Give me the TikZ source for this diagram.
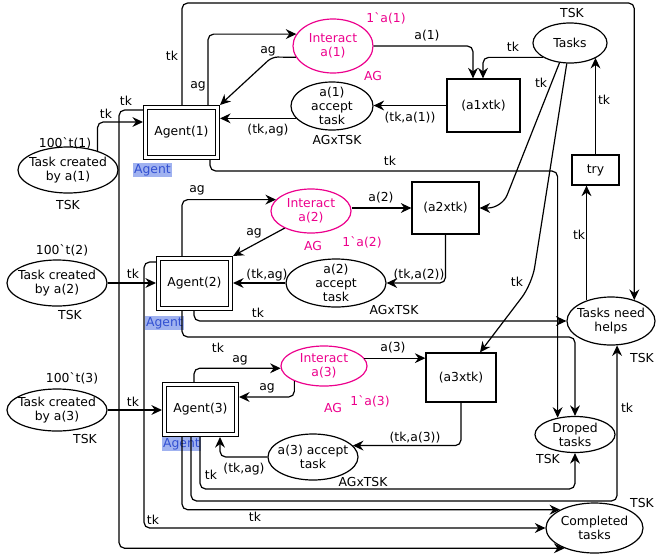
\documentclass[tikz,border=0pt]{standalone}
\usepackage{fontspec}
\setmainfont{DejaVu Sans}
\usetikzlibrary{shapes.geometric,arrows.meta}
\definecolor{tagfill}{RGB}{160,178,240}
\definecolor{tagtext}{RGB}{50,80,210}
\tikzset{
  every node/.append style={font=\fontsize{8.8}{9.8}\selectfont},
  place/.style={draw, ellipse, line width=0.85pt, inner sep=-40pt, align=center},
  iplace/.style={place, draw=magenta, text=magenta},
  trans/.style={draw, rectangle, line width=0.85pt, inner sep=0pt},
  agent/.style={draw, rectangle, line width=0.8pt, double=white, double distance=2pt,
    minimum width=1.8cm, minimum height=1.25cm, inner sep=0pt, outer sep=1.8pt},
  arc/.style={draw, line width=0.85pt, rounded corners=4pt,
    -{Stealth[length=7.5pt,width=7pt,inset=2.5pt]}},
  lbl/.style={inner sep=0pt},
  mlbl/.style={lbl, text=magenta},
  tag/.style={fill=tagfill, text=tagtext, inner sep=0.6pt, anchor=north west}
}
\newcommand{\myLabel}[3]{\node[lbl] (#1) at (#2) {#3};}
\newcommand{\myMLabel}[3]{\node[mlbl] (#1) at (#2) {#3};}

\begin{document}
\begin{tikzpicture}[x=0.025cm, y=-0.025cm]
	\useasboundingbox (0,0) rectangle (656,553);
	% agents
	\node[agent] (ag1) at (181.5,132.5) {Agent(1)};
	\node[agent] (ag2) at (194.5,283.5) {Agent(2)};
	\node[agent] (ag3) at (200.5,409.5) {Agent(3)};
	\node[tag] (tg1) at (133,163) {Agent};
	\node[tag] (tg2) at (145,316) {Agent};
	\node[tag] (tg3) at (162,437) {Agent};
	% places
	\node[place, minimum width=2.5cm, minimum height=1.15cm] (tc1) at (68,170) {Task created\\by a(1)};
	\node[place, minimum width=2.5cm, minimum height=1.15cm] (tc2) at (57,283) {Task created\\by a(2)};
	\node[place, minimum width=2.5cm, minimum height=1.05cm] (tc3) at (57,410) {Task created\\by a(3)};
	\node[iplace, minimum width=2cm, minimum height=1.35cm] (ia1) at (333,46) {Interact\\a(1)};
	\node[iplace, minimum width=2cm, minimum height=1.1cm] (ia2) at (311,211) {Interact\\a(2)};
	\node[iplace, minimum width=2.15cm, minimum height=1cm] (ia3) at (324,366) {Interact\\a(3)};
	\node[place, minimum width=2.05cm, minimum height=1.2cm] (acc1) at (332,106) {a(1)\\accept\\task};
	\node[place, minimum width=2.5cm, minimum height=1.2cm] (acc2) at (336,283) {a(2)\\accept\\task};
	\node[place, minimum width=2.25cm, minimum height=1.15cm] (acc3) at (313,457) {a(3) accept\\task};
	\node[place, minimum width=1.85cm, minimum height=1cm] (tasks) at (570,43) {Tasks};
	\node[place, minimum width=2.2cm, minimum height=1.2cm] (tnh) at (611,321) {Tasks need\\helps};
	\node[place, minimum width=2cm, minimum height=0.9cm] (drop) at (575,434.5) {Droped\\tasks};
	\node[place, minimum width=2.425cm, minimum height=1.25cm] (comp) at (594.5,528) {Completed\\tasks};
	% transitions
	\node[trans, minimum width=1.825cm, minimum height=1.325cm] (t1) at (483.5,105.5) {(a1xtk)};
	\node[trans, minimum width=1.675cm, minimum height=1.3cm] (t2) at (445.5,208) {(a2xtk)};
	\node[trans, minimum width=1.75cm, minimum height=1.225cm] (t3) at (461,377.5) {(a3xtk)};
	\node[trans, minimum width=1.175cm, minimum height=0.75cm] (try) at (595.5,170) {try};
	% colour sets and markings
	\myLabel{m1}{65,143}{100\textasciigrave t(1)}
	\myLabel{c1}{68,205}{TSK}
	\myLabel{m2}{62,250}{100\textasciigrave t(2)}
	\myLabel{c2}{70,315}{TSK}
	\myLabel{m3}{72,378}{100\textasciigrave t(3)}
	\myLabel{c3}{85,439}{TSK}
	\myMLabel{mi1}{386,18}{1\textasciigrave a(1)}
	\myMLabel{ci1}{373,76}{AG}
	\myMLabel{mi2}{362,242}{1\textasciigrave a(2)}
	\myMLabel{ci2}{313,246}{AG}
	\myMLabel{mi3}{370,401}{1\textasciigrave a(3)}
	\myMLabel{ci3}{333,408}{AG}
	\myLabel{ca1}{337,140}{AGxTSK}
	\myLabel{ca2}{394,310}{AGxTSK}
	\myLabel{ca3}{363,482}{AGxTSK}
	\myLabel{ct}{572,13}{TSK}
	\myLabel{cn}{642,358}{TSK}
	\myLabel{cd}{548,459}{TSK}
	\myLabel{cc}{642,503}{TSK}
	% arcs of Agent(1)
	\draw[arc] (tc1.33) |- (ag1.west |- 0,122);
	\draw[arc] (ag1.west |- 0,110) -- (119,110) |- (comp.214);
	\draw[arc] (182,0 |- ag1.north) |- (tnh.42 |- 0,3) -- (tnh.42);
	\draw[arc] (208,0 |- ag1.north) |- (ia1.162);
	\draw[arc] (ia1.197) -- (272,57) -- (ag1.north east);
	\draw[arc] (acc1.199) -- (ag1.east |- acc1.199);
	\draw[arc] (ia1.east) -| (473,0 |- t1.north);
	\draw[arc] (tasks.208) -| (483,0 |- t1.north);
	\draw[arc] (t1.west) -- (t1.west -| acc1.east);
	\draw[arc] (210,0 |- ag1.south) |- (drop.136 |- 0,171) -- (drop.136);
	\myLabel{a1}{106,114}{tk}
	\myLabel{a2}{126,101}{tk}
	\myLabel{a3}{172,56}{tk}
	\myLabel{a4}{198,86}{ag}
	\myLabel{a5}{268,51}{ag}
	\myLabel{a6}{268,130}{(tk,ag)}
	\myLabel{a7}{427,36}{a(1)}
	\myLabel{a8}{513,47}{tk}
	\myLabel{a9}{410,118}{(tk,a(1))}
	\myLabel{a10}{390,161}{tk}
	% arcs of Tasks and try
	\draw[arc, rounded corners=10pt] (tasks.242) -- (502,208) -- (t2.east);
	\draw[arc, rounded corners=12pt] (tasks.261) -- (532,284) -- (480,0 |- t3.north);
	\draw[arc] (tnh.140) -- (tnh.140 |- try.south);
	\draw[arc] (try.north) -- (try.north |- tasks.330);
	\myLabel{b1}{541,83}{tk}
	\myLabel{b2}{517,282}{tk}
	\myLabel{b3}{579,235}{tk}
	\myLabel{b4}{604,100}{tk}
	% arcs of Agent(2)
	\draw[arc] (tc2.east) -- (tc2.east -| ag2.west);
	\draw[arc] (182,0 |- ag2.north) |- (ia2.162);
	\draw[arc] (ia2.213) -- (ag2.north east);
	\draw[arc] (acc2.west) -- (acc2.west -| ag2.east);
	\draw[arc] (t2.west -| ia2.east) -- (t2.west);
	\draw[arc] (t2.south) |- (acc2.east);
	\draw[arc] (194,0 |- ag2.south) |- (tnh.west);
	\draw[arc] (182,0 |- ag2.south) |- (drop.north |- 0,337) -- (drop.north);
	\draw[arc] (ag2.west |- 0,262) -- (144,262) |- (comp.west);
	\myLabel{d1}{133,274}{tk}
	\myLabel{d2}{197,190}{ag}
	\myLabel{d3}{254,233}{ag}
	\myLabel{d4}{267,275}{(tk,ag)}
	\myLabel{d5}{381,198}{a(2)}
	\myLabel{d6}{419,275}{(tk,a(2))}
	\myLabel{d7}{258,313}{tk}
	\myLabel{d8}{218,348}{tk}
	\myLabel{d9}{153,520}{tk}
	% arcs of Agent(3)
	\draw[arc] (tc3.east) -- (tc3.east -| ag3.west);
	\draw[arc] (194,0 |- ag3.north) |- (ia3.183);
	\draw[arc] (ia3.207) |- (ag3.east |- 0,397);
	\draw[arc] (ia3.11) -- (ia3.11 -| t3.west);
	\draw[arc] (t3.south) |- (acc3.16);
	\draw[arc] (acc3.west) -| (220,0 |- ag3.south);
	\draw[arc] (200,0 |- ag3.south) |- (drop.south |- 0,489) -- (drop.south);
	\draw[arc] (191,0 |- ag3.south) |- (tnh.284 |- 0,501) -- (tnh.284);
	\draw[arc] (182,0 |- ag3.south) |- (comp.152);
	\myLabel{e1}{133,402}{tk}
	\myLabel{e2}{240,360}{ag}
	\myLabel{e3}{267,388}{ag}
	\myLabel{e4}{393,348}{a(3)}
	\myLabel{e5}{415,438}{(tk,a(3))}
	\myLabel{e6}{244,469}{(tk,ag)}
	\myLabel{e7}{211,475}{tk}
	\myLabel{e8}{627,408}{tk}
	\myLabel{e9}{255,517}{tk}
\end{tikzpicture}
\end{document}
